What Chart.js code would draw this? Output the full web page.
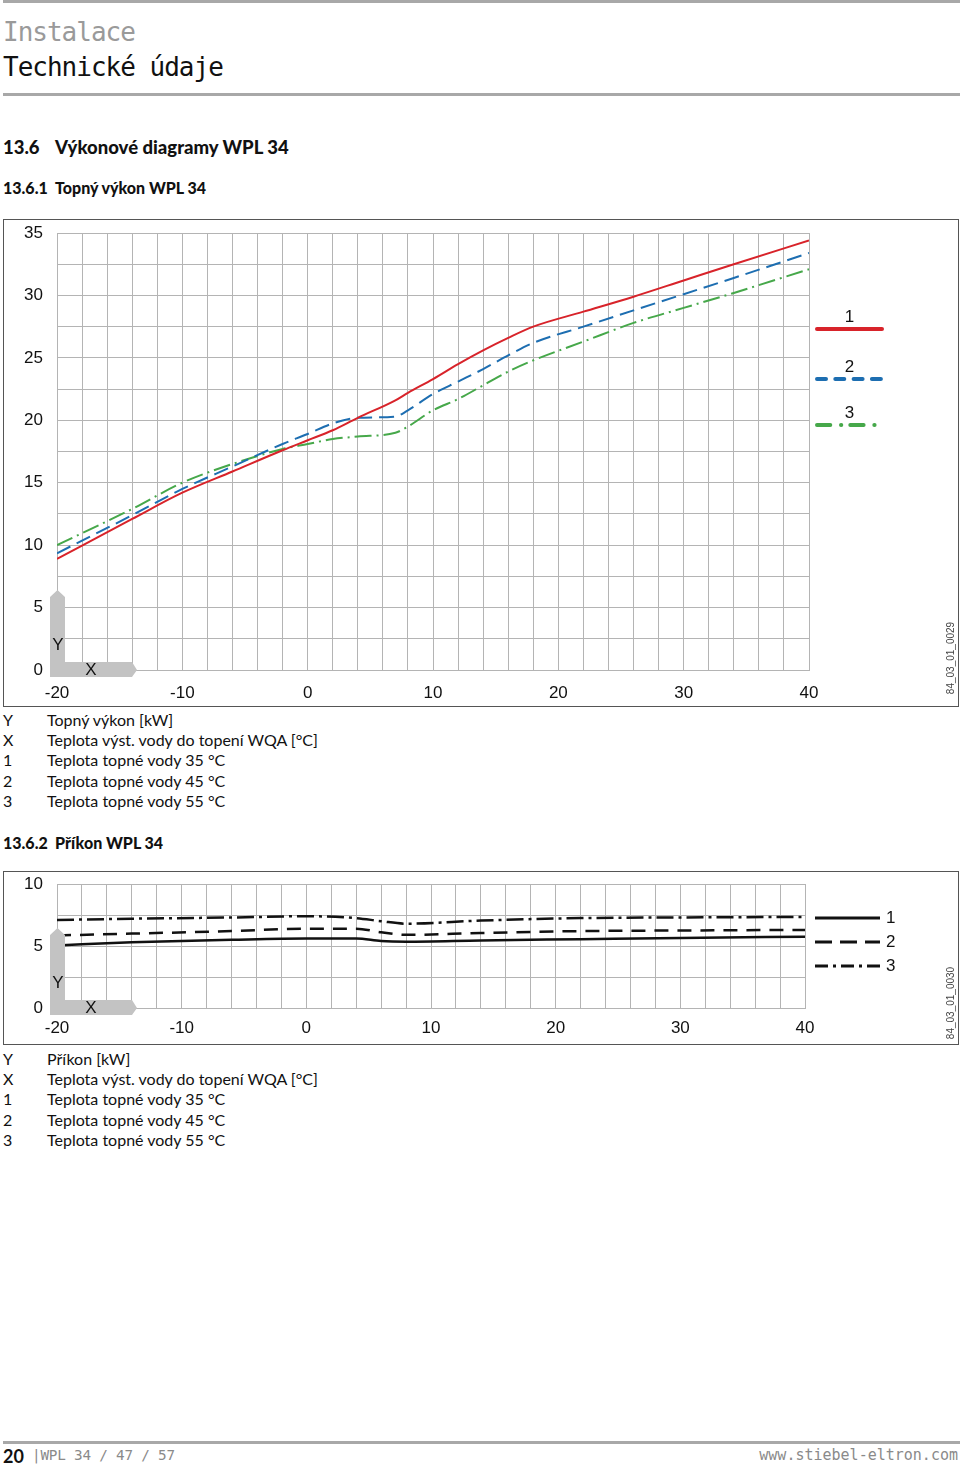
<!DOCTYPE html>
<html lang="cs">
<head>
<meta charset="utf-8">
<title>Výkonové diagramy WPL 34</title>
<script src="https://cdn.jsdelivr.net/npm/chart.js@4.4.1/dist/chart.umd.min.js"></script>
<style>
  body { margin: 0; width: 960px; height: 1465px; position: relative; overflow: hidden; background: #fff; color: #111; font-family: Lato, "Noto Sans", sans-serif; }
  .abs { position: absolute; white-space: nowrap; line-height: 1; }
  .rule { position: absolute; left: 3px; right: 0; height: 3px; background: #a8a8a8; }
  .box { position: absolute; left: 3px; width: 954px; border: 1px solid #555; }
  .box canvas { display: block; }
  .h1 { font-family: "DejaVu Sans Mono", monospace; font-size: 26px; letter-spacing: -1px; }
  .h2 { font-size: 18.5px; font-weight: 900; }
  .h3 { font-size: 16px; font-weight: 900; }
  .num { display: inline-block; width: 52px; }
  .keys { position: absolute; left: 3px; font-size: 16px; line-height: 20.2px; }
  .keys span { display: inline-block; width: 44px; }
  .foot { position: absolute; font-family: "DejaVu Sans Mono", monospace; font-size: 15px; color: #8a8a8a; line-height: 1; white-space: nowrap; }
</style>
</head>
<body>

<div class="rule" style="top:0"></div>
<div class="abs h1" style="left:3px; top:19px; color:#9a9a9a">Instalace</div>
<div class="abs h1" style="left:3px; top:54px">Technické údaje</div>
<div class="rule" style="top:93px"></div>

<div class="abs h2" style="left:3px; top:138px"><span class="num">13.6</span>Výkonové diagramy WPL 34</div>
<div class="abs h3" style="left:3px; top:180px"><span class="num">13.6.1</span>Topný výkon WPL 34</div>

<div class="box" style="top:219px; height:486px"><canvas id="heatChart" width="954" height="486"></canvas></div>

<div class="keys" style="top:710px">
  <div><span>Y</span>Topný výkon [kW]</div>
  <div><span>X</span>Teplota výst. vody do topení WQA [°C]</div>
  <div><span>1</span>Teplota topné vody 35 °C</div>
  <div><span>2</span>Teplota topné vody 45 °C</div>
  <div><span>3</span>Teplota topné vody 55 °C</div>
</div>

<div class="abs h3" style="left:3px; top:835px"><span class="num">13.6.2</span>Příkon WPL 34</div>

<div class="box" style="top:871px; height:172px"><canvas id="powerChart" width="954" height="172"></canvas></div>

<div class="keys" style="top:1049px">
  <div><span>Y</span>Příkon [kW]</div>
  <div><span>X</span>Teplota výst. vody do topení WQA [°C]</div>
  <div><span>1</span>Teplota topné vody 35 °C</div>
  <div><span>2</span>Teplota topné vody 45 °C</div>
  <div><span>3</span>Teplota topné vody 55 °C</div>
</div>

<div class="rule" style="top:1441px"></div>
<div class="foot" style="left:3px; top:1447px; font-family:Lato,sans-serif; font-weight:bold; font-size:18px; color:#111">20</div>
<div class="foot" style="left:32px; top:1448px; font-size:14.3px; letter-spacing:-0.2px">|WPL 34 / 47 / 57</div>
<div class="foot" style="right:2px; top:1448px">www.stiebel-eltron.com</div>

<script>
// ---- values ----
const heatTemps = [-20, -14, -10, -6, -2, 0, 2, 4, 7, 8, 10, 12, 14, 16, 18, 22, 26, 30, 34, 40];
const heat35 = [8.9, 12.1, 14.2, 15.9, 17.6, 18.4, 19.2, 20.2, 21.6, 22.2, 23.3, 24.5, 25.6, 26.6, 27.5, 28.7, 29.9, 31.2, 32.5, 34.4];
const heat45 = [9.35, 12.4, 14.5, 16.3, 18.1, 18.9, 19.75, 20.2, 20.3, 20.8, 22.1, 23.1, 24.1, 25.2, 26.2, 27.5, 28.8, 30.1, 31.4, 33.4];
const heat55 = [10.0, 12.9, 15.0, 16.5, 17.7, 18.1, 18.5, 18.7, 19.0, 19.5, 20.8, 21.7, 22.8, 23.9, 24.8, 26.3, 27.8, 29.0, 30.2, 32.1];

const powerTemps = [-20, -14, -6, 0, 4, 6, 8, 14, 22, 30, 40];
const power35 = [5.05, 5.3, 5.5, 5.6, 5.6, 5.4, 5.35, 5.45, 5.55, 5.65, 5.75];
const power45 = [5.85, 6.0, 6.2, 6.4, 6.4, 6.1, 5.9, 6.05, 6.2, 6.25, 6.3];
const power55 = [7.1, 7.2, 7.3, 7.4, 7.25, 7.0, 6.8, 7.05, 7.25, 7.3, 7.35];

const seriesNames = ['1', '2', '3'];
const xLabels = [-20, -10, 0, 10, 20, 30, 40];
const heatYLabels = [0, 5, 10, 15, 20, 25, 30, 35];
const powerYLabels = [0, 5, 10];

const tickFont = { family: '"Liberation Sans", Arial, sans-serif', size: 17 };
const gridColor = '#b4b4b4';

// gray Y/X corner, legend at the right and the drawing number
const decor = {
  id: 'decor',
  afterDraw(chart, args, o) {
    const ctx = chart.ctx;
    const a = chart.chartArea;
    const L = a.left, B = a.bottom;
    ctx.save();
    ctx.fillStyle = '#c3c3c3';
    ctx.beginPath();
    ctx.moveTo(L - 7, B + 7);
    ctx.lineTo(L + 75, B + 7);
    ctx.lineTo(L + 80, B);
    ctx.lineTo(L + 75, B - 8);
    ctx.lineTo(L + 8, B - 8);
    ctx.lineTo(L + 8, B - 73);
    ctx.lineTo(L + 0.5, B - 80);
    ctx.lineTo(L - 7, B - 73);
    ctx.closePath();
    ctx.fill();

    ctx.fillStyle = '#111';
    ctx.font = '17px "Liberation Sans", Arial, sans-serif';
    ctx.textAlign = 'center';
    ctx.textBaseline = 'middle';
    ctx.fillText('Y', L + 1, B - 25);
    ctx.fillText('X', L + 34, B);

    chart.data.datasets.forEach((ds, i) => {
      const y = o.legendY[i];
      ctx.strokeStyle = ds.borderColor;
      ctx.lineWidth = o.legendWidth;
      ctx.lineCap = o.legendCap;
      ctx.setLineDash(o.legendDash[i]);
      ctx.beginPath();
      ctx.moveTo(a.right + o.lineFrom, y);
      ctx.lineTo(a.right + o.lineTo, y);
      ctx.stroke();
      ctx.setLineDash([]);
      if (o.labelAbove) {
        ctx.textAlign = 'center';
        ctx.fillText(ds.label, a.right + (o.lineFrom + o.lineTo) / 2, y - 12);
      } else {
        ctx.textAlign = 'left';
        ctx.fillText(ds.label, a.right + o.lineTo + 6, y);
      }
    });

    ctx.translate(chart.width - 7, o.idY);
    ctx.rotate(-Math.PI / 2);
    ctx.font = '10px "Liberation Sans", Arial, sans-serif';
    ctx.fillStyle = '#444';
    ctx.textAlign = 'center';
    ctx.fillText(o.drawingId, 0, 0);
    ctx.restore();
  }
};

function diagram(canvasId, temps, series, yMax, yLabels, look) {
  return new Chart(document.getElementById(canvasId), {
    type: 'line',
    data: {
      datasets: series.map((s, i) => ({
        label: seriesNames[i],
        data: temps.map((t, k) => ({ x: t, y: s.values[k] })),
        borderColor: s.color,
        borderWidth: s.width,
        borderDash: s.dash,
        pointRadius: 0,
        fill: false,
        cubicInterpolationMode: 'monotone'
      }))
    },
    options: {
      responsive: false,
      animation: false,
      layout: { padding: { top: look.top, right: look.right, left: 0, bottom: 0 } },
      plugins: {
        legend: { display: false },
        tooltip: { enabled: false },
        decor: look.decor
      },
      scales: {
        x: {
          type: 'linear', min: -20, max: 40,
          grid: { color: gridColor, drawTicks: false },
          border: { color: gridColor },
          ticks: {
            stepSize: 2, autoSkip: false, maxRotation: 0, padding: look.xPad,
            color: '#111', font: tickFont,
            callback: v => xLabels.includes(v) ? String(v) : ''
          },
          afterFit(s) { s.height = look.xHeight; }
        },
        y: {
          min: 0, max: yMax,
          grid: { color: gridColor, drawTicks: false },
          border: { color: gridColor },
          ticks: {
            stepSize: 2.5, autoSkip: false, padding: 14,
            color: '#111', font: tickFont,
            callback: v => yLabels.includes(v) ? String(v) : ''
          },
          // fixed axis width; top gap comes from layout padding only
          afterFit(s) { s.width = 53; s.paddingTop = 0; s.paddingBottom = 0; }
        }
      }
    },
    plugins: [decor]
  });
}

diagram('heatChart', heatTemps, [
  { values: heat35, color: '#d8232a', width: 2, dash: [] },
  { values: heat45, color: '#1d6eb1', width: 2, dash: [15, 7] },
  { values: heat55, color: '#46a84a', width: 2, dash: [17, 5, 2, 5] }
], 35, heatYLabels, {
  top: 13, right: 149, xPad: 13, xHeight: 36,
  decor: {
    legendY: [109, 159, 205], legendWidth: 4, legendCap: 'round',
    legendDash: [[], [9, 9.3], [13.3, 10.7, 0.3, 9]],
    lineFrom: 8, lineTo: 73, labelAbove: true,
    idY: 438, drawingId: '84_03_01_0029'
  }
});

diagram('powerChart', powerTemps, [
  { values: power35, color: '#111', width: 2.5, dash: [] },
  { values: power45, color: '#111', width: 2.5, dash: [14, 9] },
  { values: power55, color: '#111', width: 2.5, dash: [17, 5, 3, 5] }
], 10, powerYLabels, {
  top: 12, right: 153, xPad: 10, xHeight: 36,
  decor: {
    legendY: [46, 70, 94], legendWidth: 3, legendCap: 'butt',
    legendDash: [[], [17, 8], [13, 5, 3, 5]],
    lineFrom: 10, lineTo: 75, labelAbove: false,
    idY: 131, drawingId: '84_03_01_0030'
  }
});
</script>
</body>
</html>
